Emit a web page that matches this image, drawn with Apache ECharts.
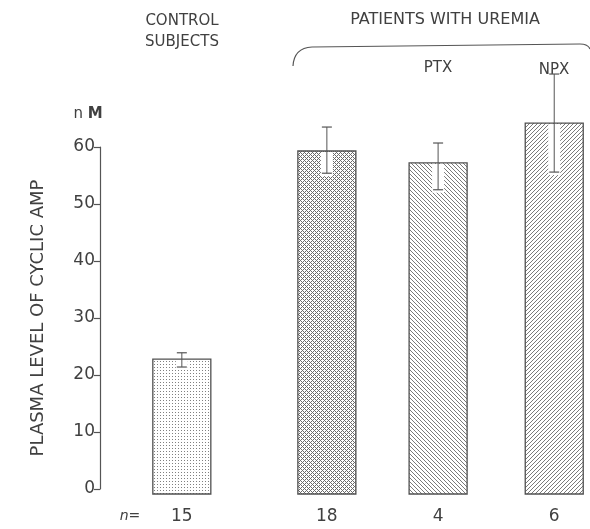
<!DOCTYPE html>
<html><head><meta charset="utf-8">
<script src="https://cdn.jsdelivr.net/npm/echarts@6/dist/echarts.min.js"></script>
<style>html,body{margin:0;padding:0;background:#fff}#c{width:590px;height:529px}</style>
</head><body><div id="c"></div>
<script>
// ---- data ----
const groups = ['CONTROL SUBJECTS', 'UREMIA', 'PTX', 'NPX'];
const nLabels = ['15', '18', '4', '6'];
const means = [22.8, 59.3, 57.2, 64.2];
const errHigh = [23.9, 63.5, 60.7, 72.8];
const errLow = [21.4, 55.4, 52.5, 55.6];
const yTicks = [0, 10, 20, 30, 40, 50, 60];

// ---- layout (not data) ----
const groupX = [16.7, 46.3, 69.0, 92.7];
const FONT = 'DejaVu Sans';
const INK = '#404040';

function makePattern(kind) {
  const s = kind === 'dots' ? 3 : 4;
  const c = document.createElement('canvas');
  c.width = s; c.height = s;
  const ctx = c.getContext('2d');
  ctx.fillStyle = '#fff'; ctx.fillRect(0, 0, s, s);
  for (let x = 0; x < s; x++) for (let y = 0; y < s; y++) {
    let on = false, col = '#777';
    if (kind === 'dots') { on = (x === 1 && y === 1); col = '#808080'; }
    if (kind === 'cross') { on = ((x - y + s) % s === 0) || ((x + y) % s === 0); col = '#6a6a6a'; }
    if (kind === 'back') { on = ((x - y + s) % s === 0); col = '#7a7a7a'; }
    if (kind === 'fwd') { on = ((x + y) % s === 0); col = '#7a7a7a'; }
    if (on) { ctx.fillStyle = col; ctx.fillRect(x, y, 1, 1); }
  }
  return { image: c, repeat: 'repeat' };
}
const patterns = [makePattern('dots'), makePattern('cross'), makePattern('back'), makePattern('fwd')];

const seriesData = groups.map((g, i) => [groupX[i], means[i], errHigh[i], errLow[i]]);

const chart = echarts.init(document.getElementById('c'), null, { renderer: 'canvas' });
chart.setOption({
  backgroundColor: '#fff',
  animation: false,
  grid: { left: 100, right: 0, top: 147, bottom: 40, containLabel: false },
  xAxis: { type: 'value', min: 0, max: 100, show: false },
  yAxis: {
    type: 'value', min: 0, max: 60, interval: 10,
    name: 'PLASMA LEVEL OF CYCLIC AMP', nameLocation: 'middle', nameRotate: 90, nameGap: 53,
    nameTextStyle: { fontFamily: FONT, fontSize: 18, color: INK },
    axisLine: { show: true, lineStyle: { color: '#555', width: 1.2 } },
    axisTick: { show: true, length: 6, lineStyle: { color: '#555', width: 1.2 } },
    splitLine: { show: false },
    axisLabel: {
      fontFamily: FONT, fontSize: 17, color: INK, margin: 5,
      formatter: v => yTicks.includes(v) ? String(v) : ''
    }
  },
  series: [{
    type: 'custom',
    data: seriesData,
    renderItem: function (params, api) {
      const i = params.dataIndex;
      const x = api.value(0), v = api.value(1), hi = api.value(2), lo = api.value(3);
      const top = api.coord([x, v]);
      const base = api.coord([x, 0]);
      const pHi = api.coord([x, hi]);
      const pLo = api.coord([x, lo]);
      const w = 58, cx = top[0];
      const children = [
        { type: 'rect', shape: { x: cx - w / 2, y: top[1], width: w, height: base[1] - top[1] + 5 },
          style: { fill: patterns[i], stroke: '#505050', lineWidth: 1.3 } },
        { type: 'rect', shape: { x: cx - 6, y: top[1] + 1, width: 12, height: Math.max(0, pLo[1] - top[1] + 2) },
          style: { fill: '#fff' } },
        { type: 'line', shape: { x1: cx, y1: pHi[1], x2: cx, y2: pLo[1] }, style: { stroke: '#555', lineWidth: 1 } },
        { type: 'line', shape: { x1: cx - 5, y1: pHi[1], x2: cx + 5, y2: pHi[1] }, style: { stroke: '#555', lineWidth: 1.2 } },
        { type: 'line', shape: { x1: cx - 5, y1: pLo[1], x2: cx + 5, y2: pLo[1] }, style: { stroke: '#555', lineWidth: 1.2 } },
        { type: 'text', style: { text: nLabels[i], x: cx, y: base[1] + 28, align: 'center', verticalAlign: 'middle',
          fontFamily: FONT, fontSize: 17, fill: INK } }
      ];
      return { type: 'group', children: children };
    }
  }],
  graphic: [
    { type: 'text', style: { text: 'CONTROL\nSUBJECTS', x: 182, y: 32, align: 'center', verticalAlign: 'middle',
      fontFamily: FONT, fontSize: 15, lineHeight: 21, fill: INK } },
    { type: 'text', style: { text: 'PATIENTS WITH UREMIA', x: 445, y: 20, align: 'center', verticalAlign: 'middle',
      fontFamily: FONT, fontSize: 16, fill: INK } },
    { type: 'bezierCurve', shape: { x1: 293, y1: 66, cpx1: 294, cpy1: 48, x2: 312, y2: 47 },
      style: { stroke: '#555', lineWidth: 1.2, fill: null } },
    { type: 'line', shape: { x1: 312, y1: 47, x2: 580, y2: 44 },
      style: { stroke: '#555', lineWidth: 1.2 } },
    { type: 'bezierCurve', shape: { x1: 580, y1: 44, cpx1: 588, cpy1: 44, x2: 590, y2: 49 },
      style: { stroke: '#555', lineWidth: 1.2, fill: null } },
    { type: 'text', style: { text: 'PTX', x: 438, y: 68, align: 'center', verticalAlign: 'middle',
      fontFamily: FONT, fontSize: 15, fill: INK } },
    { type: 'text', style: { text: 'NPX', x: 554, y: 70, align: 'center', verticalAlign: 'middle',
      fontFamily: FONT, fontSize: 15, fill: INK } },
    { type: 'text', style: { text: '{n|n} {m|M}', x: 88, y: 114, align: 'center', verticalAlign: 'middle',
      rich: { n: { fontFamily: FONT, fontSize: 15, fill: INK },
              m: { fontFamily: FONT, fontSize: 15, fontWeight: 'bold', fill: INK } },
      fontFamily: FONT, fontSize: 15, fill: INK } },
    { type: 'text', style: { text: 'n=', x: 130, y: 516, align: 'center', verticalAlign: 'middle',
      fontFamily: FONT, fontSize: 14, fontStyle: 'italic', fill: INK } }
  ]
});
</script></body></html>
